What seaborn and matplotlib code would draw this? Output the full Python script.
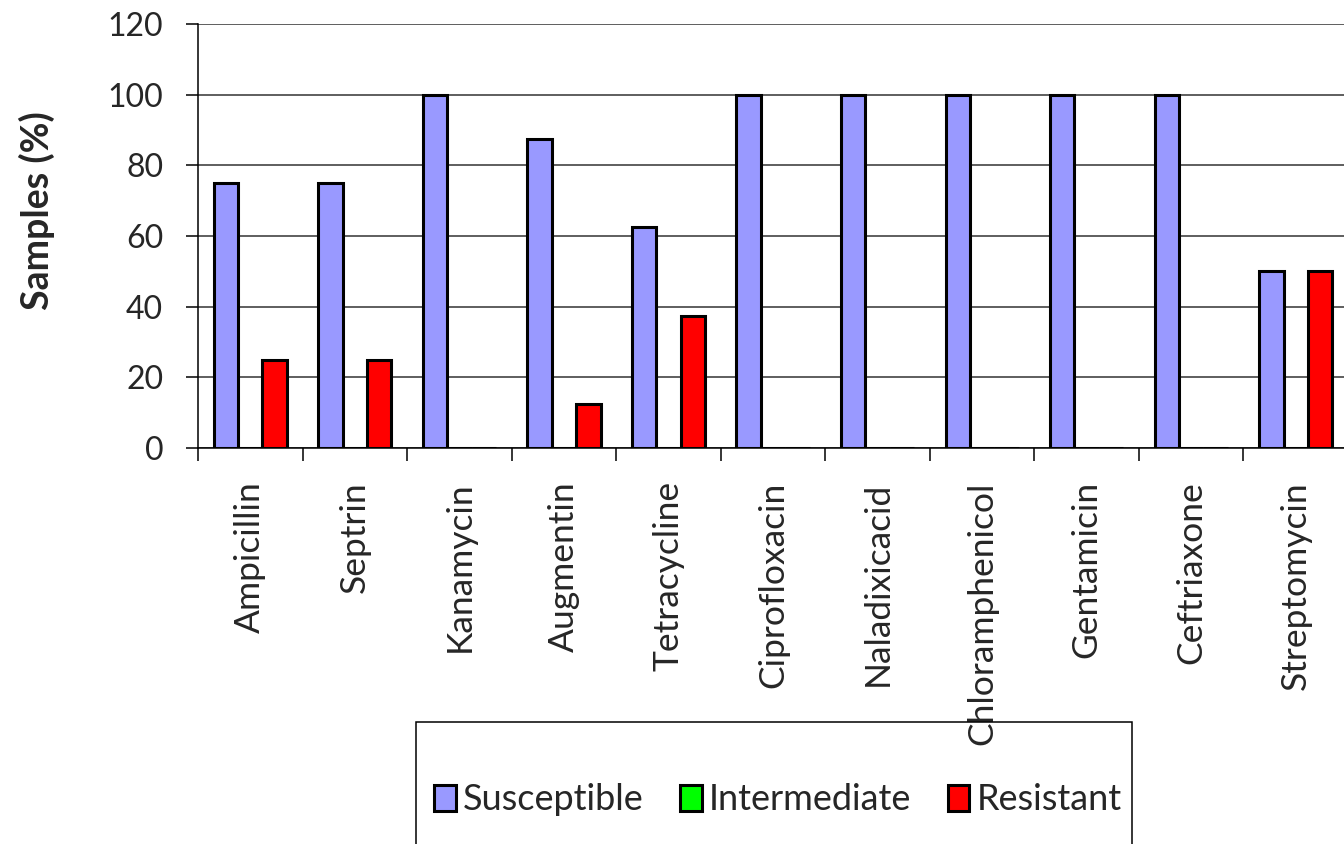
import pandas as pd
import seaborn as sns
import matplotlib.pyplot as plt
from matplotlib.patches import Rectangle
from matplotlib.ticker import FixedLocator

# data
antibiotics = ['Ampicillin', 'Septrin', 'Kanamycin', 'Augmentin', 'Tetracycline',
               'Ciprofloxacin', 'Naladixicacid', 'Chloramphenicol', 'Gentamicin',
               'Ceftriaxone', 'Streptomycin']
susceptible = [75, 75, 100, 87.5, 62.5, 100, 100, 100, 100, 100, 50]
intermediate = [0, 0, 0, 0, 0, 0, 0, 0, 0, 0, 0]
resistant = [25, 25, 0, 12.5, 37.5, 0, 0, 0, 0, 0, 50]
series = ['Susceptible', 'Intermediate', 'Resistant']
colors = ['#9999FF', '#00FF00', '#FF0000']

rows = []
for name, vals in zip(series, [susceptible, intermediate, resistant]):
    for ab, v in zip(antibiotics, vals):
        rows.append({'Antibiotic': ab, 'Result': name, 'Samples': v})
df = pd.DataFrame(rows)

sns.set_theme(style='white')
plt.rcParams['font.family'] = ['Lato', 'DejaVu Sans']

W, H = 1344, 844
fig = plt.figure(figsize=(W / 100, H / 100), dpi=100)
ax = fig.add_axes([198 / W, 1 - 448 / H, (1348 - 198) / W, (448 - 24) / H])

sns.barplot(data=df, x='Antibiotic', y='Samples', hue='Result', order=antibiotics,
            hue_order=series, palette=colors, width=0.7, edgecolor='black',
            linewidth=2.2, saturation=1, legend=True, ax=ax)

ax.set_ylim(0, 120)
ax.set_xlim(-0.5, len(antibiotics) - 0.5)
ax.set_yticks(range(0, 121, 20))
ax.yaxis.grid(True, color='#333333', linewidth=1.1)
ax.set_axisbelow(True)
for s in ['top', 'right']:
    ax.spines[s].set_visible(False)
ax.spines['left'].set_color('black')
ax.spines['bottom'].set_color('black')
ax.spines['left'].set_linewidth(1.1)
ax.spines['bottom'].set_linewidth(1.1)

ax.tick_params(axis='y', which='major', direction='out', length=9, width=1.1,
               color='black', pad=16, labelsize=23, left=True)
ax.xaxis.set_minor_locator(FixedLocator([i - 0.5 for i in range(len(antibiotics) + 1)]))
ax.tick_params(axis='x', which='minor', direction='out', length=9, width=1.1,
               color='black', bottom=True)
ax.tick_params(axis='x', which='major', length=0, pad=24, labelsize=25.5)
plt.setp(ax.get_xticklabels(), rotation=90, va='top', ha='center')

ax.set_xlabel('')
ax.set_ylabel('Samples (%)', fontsize=27, fontweight='bold')
ax.yaxis.set_label_coords(-0.124, 0.56)

handles, labels = ax.get_legend_handles_labels()
ax.get_legend().remove()
fig.legend(handles, labels, ncol=3, loc='center',
           bbox_to_anchor=(778 / W, 1 - 800 / H), frameon=False, fontsize=26,
           handlelength=0.6, handleheight=0.7, handletextpad=0.2,
           columnspacing=1.0)
fig.patches.append(Rectangle((416 / W, 1 - 900 / H), (1132 - 416) / W, (900 - 722) / H,
                             transform=fig.transFigure, fill=False,
                             edgecolor='black', linewidth=1.1))

fig.savefig('out.png', dpi=100)
